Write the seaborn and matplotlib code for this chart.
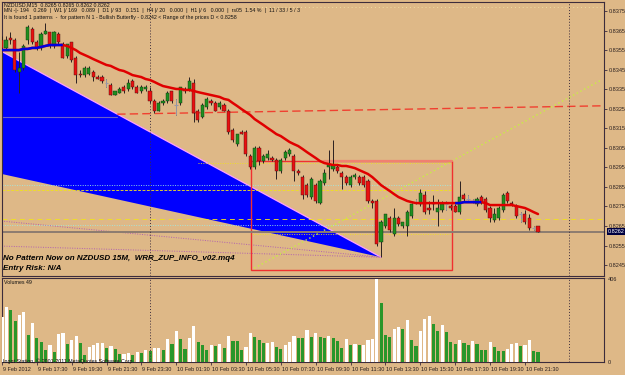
import numpy as np
import pandas as pd
import matplotlib
matplotlib.use("Agg")
import matplotlib.pyplot as plt
import matplotlib.transforms as mtransforms
from matplotlib.patches import Polygon, Rectangle
import seaborn as sns

# --- NZDUSD M15 candles, 9 Feb 2012 15:30 onwards ---
opens = [0.8360, 0.8356, 0.8361, 0.8360, 0.8344, 0.8346, 0.8360, 0.8366, 0.8359, 0.8356,
         0.8363, 0.8364, 0.8357, 0.8363, 0.8358, 0.8352, 0.8359, 0.8351, 0.8343, 0.8342,
         0.8343, 0.8344, 0.8341, 0.8341, 0.8338, 0.8337, 0.8332, 0.8333, 0.8336, 0.8335,
         0.8339, 0.8336, 0.8334, 0.8335, 0.8334, 0.8329, 0.8324, 0.8328, 0.8329, 0.8334,
         0.8327, 0.8328, 0.8335, 0.8335, 0.8338, 0.8324, 0.8321, 0.8326, 0.8329, 0.8328,
         0.8326, 0.8327, 0.8324, 0.8314, 0.8307, 0.8313, 0.8313, 0.8301, 0.8295, 0.8305,
         0.8298, 0.8300, 0.8300, 0.8299, 0.8293, 0.8300, 0.8302, 0.8301, 0.8293, 0.8290,
         0.8286, 0.8280, 0.8286, 0.8277, 0.8287, 0.8295, 0.8294, 0.8295, 0.8292, 0.8290,
         0.8286, 0.8290, 0.8290, 0.8290, 0.8288, 0.8278, 0.8278, 0.8257, 0.8265, 0.8269,
         0.8261, 0.8269, 0.8265, 0.8265, 0.8270, 0.8277, 0.8276, 0.8281, 0.8274, 0.8277,
         0.8272, 0.8273, 0.8276, 0.8275, 0.8275, 0.8272, 0.8281, 0.8279, 0.8278, 0.8276,
         0.8280, 0.8279, 0.8274, 0.8268, 0.8269, 0.8273, 0.8282, 0.8277, 0.8275, 0.8271,
         0.8271, 0.8269, 0.8264, 0.8265]
highs = [0.8362, 0.8362, 0.8364, 0.8361, 0.8354, 0.8358, 0.8368, 0.8367, 0.8360, 0.8364,
         0.8369, 0.8364, 0.8365, 0.8364, 0.8359, 0.8358, 0.8359, 0.8352, 0.8345, 0.8347,
         0.8347, 0.8345, 0.8342, 0.8342, 0.8340, 0.8338, 0.8334, 0.8336, 0.8337, 0.8340,
         0.8340, 0.8337, 0.8337, 0.8337, 0.8336, 0.8330, 0.8329, 0.8330, 0.8334, 0.8334,
         0.8330, 0.8336, 0.8336, 0.8341, 0.8340, 0.8325, 0.8328, 0.8331, 0.8330, 0.8329,
         0.8329, 0.8328, 0.8325, 0.8315, 0.8312, 0.8314, 0.8314, 0.8302, 0.8306, 0.8306,
         0.8302, 0.8304, 0.8301, 0.8300, 0.8300, 0.8304, 0.8305, 0.8302, 0.8294, 0.8291,
         0.8287, 0.8290, 0.8287, 0.8289, 0.8294, 0.8304, 0.8309, 0.8296, 0.8293, 0.8291,
         0.8291, 0.8292, 0.8291, 0.8291, 0.8289, 0.8279, 0.8279, 0.8268, 0.8271, 0.8270,
         0.8274, 0.8270, 0.8267, 0.8273, 0.8277, 0.8279, 0.8284, 0.8283, 0.8278, 0.8281,
         0.8279, 0.8278, 0.8278, 0.8276, 0.8276, 0.8288, 0.8282, 0.8281, 0.8279, 0.8280,
         0.8281, 0.8280, 0.8275, 0.8274, 0.8275, 0.8282, 0.8283, 0.8278, 0.8276, 0.8272,
         0.8273, 0.8271, 0.8265, 0.8265]
lows = [0.8355, 0.8355, 0.8358, 0.8344, 0.8333, 0.8345, 0.8358, 0.8358, 0.8355, 0.8355,
        0.8363, 0.8356, 0.8356, 0.8358, 0.8351, 0.8351, 0.8349, 0.8338, 0.8341, 0.8341,
        0.8342, 0.8339, 0.8340, 0.8338, 0.8336, 0.8332, 0.8332, 0.8333, 0.8333, 0.8334,
        0.8335, 0.8333, 0.8333, 0.8334, 0.8328, 0.8323, 0.8324, 0.8327, 0.8328, 0.8328,
        0.8322, 0.8327, 0.8333, 0.8334, 0.8318, 0.8318, 0.8320, 0.8325, 0.8327, 0.8324,
        0.8325, 0.8324, 0.8312, 0.8308, 0.8306, 0.8312, 0.8301, 0.8294, 0.8294, 0.8296,
        0.8297, 0.8299, 0.8298, 0.8289, 0.8292, 0.8299, 0.8301, 0.8288, 0.8291, 0.8279,
        0.8280, 0.8279, 0.8277, 0.8276, 0.8286, 0.8289, 0.8293, 0.8292, 0.8284, 0.8286,
        0.8285, 0.8289, 0.8286, 0.8285, 0.8277, 0.8274, 0.8255, 0.8249, 0.8264, 0.8262,
        0.8260, 0.8265, 0.8264, 0.8260, 0.8269, 0.8276, 0.8275, 0.8271, 0.8271, 0.8273,
        0.8265, 0.8272, 0.8273, 0.8273, 0.8272, 0.8271, 0.8278, 0.8278, 0.8277, 0.8275,
        0.8276, 0.8272, 0.8267, 0.8267, 0.8268, 0.8272, 0.8277, 0.8275, 0.8269, 0.8267,
        0.8266, 0.8263, 0.8263, 0.8262]
closes = [0.8356, 0.8360, 0.8360, 0.8345, 0.8346, 0.8357, 0.8367, 0.8359, 0.8356, 0.8363,
          0.8365, 0.8357, 0.8364, 0.8359, 0.8351, 0.8358, 0.8350, 0.8342, 0.8342, 0.8346,
          0.8346, 0.8341, 0.8340, 0.8339, 0.8338, 0.8332, 0.8334, 0.8335, 0.8334, 0.8338,
          0.8336, 0.8333, 0.8336, 0.8336, 0.8329, 0.8324, 0.8328, 0.8329, 0.8333, 0.8329,
          0.8327, 0.8336, 0.8334, 0.8339, 0.8323, 0.8319, 0.8327, 0.8330, 0.8328, 0.8324,
          0.8328, 0.8324, 0.8313, 0.8309, 0.8312, 0.8312, 0.8302, 0.8295, 0.8305, 0.8298,
          0.8301, 0.8302, 0.8299, 0.8293, 0.8299, 0.8303, 0.8304, 0.8293, 0.8292, 0.8281,
          0.8281, 0.8289, 0.8278, 0.8288, 0.8292, 0.8296, 0.8296, 0.8293, 0.8290, 0.8287,
          0.8290, 0.8291, 0.8287, 0.8286, 0.8278, 0.8277, 0.8256, 0.8267, 0.8271, 0.8263,
          0.8269, 0.8266, 0.8267, 0.8272, 0.8276, 0.8277, 0.8282, 0.8272, 0.8273, 0.8276,
          0.8274, 0.8276, 0.8276, 0.8274, 0.8272, 0.8280, 0.8279, 0.8279, 0.8278, 0.8279,
          0.8277, 0.8273, 0.8269, 0.8271, 0.8274, 0.8281, 0.8278, 0.8276, 0.8270, 0.8271,
          0.8267, 0.8264, 0.8264, 0.8262]

# two-colour moving average
ma = [0.83550, 0.83550, 0.83550, 0.83550, 0.83550, 0.83556, 0.83556, 0.83561, 0.83561, 0.83566,
      0.83571, 0.83576, 0.83576, 0.83576, 0.83576, 0.83571, 0.83561, 0.83550, 0.83535, 0.83525,
      0.83515, 0.83504, 0.83494, 0.83484, 0.83474, 0.83469, 0.83458, 0.83448, 0.83443, 0.83433,
      0.83422, 0.83417, 0.83412, 0.83402, 0.83397, 0.83387, 0.83376, 0.83366, 0.83361, 0.83356,
      0.83351, 0.83351, 0.83346, 0.83346, 0.83341, 0.83335, 0.83330, 0.83325, 0.83320, 0.83315,
      0.83310, 0.83300, 0.83295, 0.83279, 0.83264, 0.83248, 0.83233, 0.83218, 0.83197, 0.83182,
      0.83167, 0.83151, 0.83136, 0.83120, 0.83110, 0.83095, 0.83080, 0.83069, 0.83059, 0.83044,
      0.83028, 0.83013, 0.82998, 0.82982, 0.82972, 0.82967, 0.82962, 0.82962, 0.82957, 0.82957,
      0.82952, 0.82946, 0.82936, 0.82926, 0.82916, 0.82900, 0.82880, 0.82859, 0.82844, 0.82829,
      0.82813, 0.82798, 0.82788, 0.82778, 0.82772, 0.82767, 0.82767, 0.82767, 0.82767, 0.82767,
      0.82767, 0.82767, 0.82767, 0.82767, 0.82767, 0.82767, 0.82772, 0.82772, 0.82772, 0.82772,
      0.82772, 0.82767, 0.82757, 0.82757, 0.82757, 0.82757, 0.82757, 0.82757, 0.82752, 0.82747,
      0.82742, 0.82732, 0.82721, 0.82711]
ma_blue_runs = [(0, 14), (104, 110)]

volumes = [218, 270, 255, 201, 229, 246, 133, 190, 118, 100,
           59, 83, 49, 139, 144, 88, 108, 128, 92, 34,
           74, 82, 92, 93, 70, 77, 64, 39, 41, 46,
           34, 49, 46, 57, 54, 67, 69, 59, 113, 87,
           151, 111, 65, 118, 175, 97, 83, 57, 83, 80,
           88, 69, 126, 103, 101, 61, 75, 144, 121, 108,
           92, 95, 100, 75, 65, 83, 98, 128, 118, 116,
           156, 123, 144, 121, 116, 128, 115, 101, 70, 111,
           85, 87, 82, 85, 108, 111, 406, 288, 134, 121,
           160, 170, 162, 205, 108, 79, 151, 208, 226, 188,
           152, 180, 146, 98, 87, 108, 92, 82, 103, 87,
           59, 57, 98, 75, 56, 54, 65, 88, 92, 79,
           83, 110, 52, 49]

time_labels = ["9 Feb 2012", "9 Feb 17:30", "9 Feb 19:30", "9 Feb 21:30", "9 Feb 23:30",
               "10 Feb 01:30", "10 Feb 03:30", "10 Feb 05:30", "10 Feb 07:30", "10 Feb 09:30",
               "10 Feb 11:30", "10 Feb 13:30", "10 Feb 15:30", "10 Feb 17:30", "10 Feb 19:30",
               "10 Feb 21:30"]
label_step = 8          # bars between time labels (2 hours of M15)
day_breaks = [34, 130]  # bar index of 10 Feb 00:00 and 11 Feb 00:00
price_ticks = [0.8245, 0.8255, 0.8265, 0.8275, 0.8285, 0.8295, 0.8305, 0.8315,
               0.8325, 0.8335, 0.8345, 0.8355, 0.8365, 0.8375]
bid = 0.8262
vol_max = 406

# harmonic pattern drawing (bar, price)
butterfly = [(-1, 0.83555), (-1, 0.82921), (87, 0.8249)]
box = (57.1, 0.82424, 103.2, 0.82982)
diag = [(57.1, 0.82424), (137.2, 0.83393)]
trend_red = [(26.5, 0.83222), (138.2, 0.83265)]
trend_left = [(0, 0.83209), (26.5, 0.83209)]
purple_rays = [[(0, 0.82675), (87, 0.8249)], [(0, 0.82547), (87, 0.8249)]]
# (price, first bar, last bar, colour, style)
levels = [(0.83770, 57, 138.2, "#F0E0A0", (0, (1, 3))),
          (0.82972, 45, 103.2, "#F0E020", (0, (1, 1.5))),
          (0.82860, 0, 103.2, "#A0E8E0", (0, (1, 1.5))),
          (0.82834, 0, 103.2, "#F0E020", (0, (3, 1.5))),
          (0.82685, 0, 138.2, "#F0E020", (0, (5, 4))),
          (0.82655, 0, 103.2, "#A0E8E0", (0, (1, 1.5))),
          (0.82609, 57, 103.2, "#F0E020", (0, (1, 1.5)))]

BG = "#DEB887"
BULL = "#1F8F1F"
BEAR = "#E81010"
WICK = "#2A2020"
FRAME = "#3C2C3C"

sns.set_theme(style="ticks", rc={"axes.facecolor": BG, "figure.facecolor": BG,
                                 "axes.edgecolor": FRAME, "axes.linewidth": 0.8})
plt.rcParams["font.family"] = ["Liberation Sans", "DejaVu Sans"]

W, H = 625, 375
fig = plt.figure(figsize=(W / 100, H / 100), dpi=100)


def px_axes(left, top, right, bottom):
    return fig.add_axes([left / W, 1 - bottom / H, (right - left) / W, (bottom - top) / H])


ax = px_axes(2, 2, 604, 276)
axv = px_axes(2, 278, 604, 362)
xlim = (0.07, 138.14)

df = pd.DataFrame({"open": opens, "high": highs, "low": lows, "close": closes,
                   "ma": ma, "volume": volumes})
df["bar"] = np.arange(len(df))

# ---- price panel ----
ax.add_patch(Polygon(butterfly, closed=True, fc="#0000FF", ec="none", zorder=1))
ax.plot([butterfly[0][0], butterfly[2][0]], [butterfly[0][1], butterfly[2][1]],
        color="#FFA0FF", lw=0.9, zorder=1.5)
for ray in purple_rays:
    ax.plot(*zip(*ray), color="#B060B0", lw=0.7, ls=(0, (1, 1.5)), zorder=2)
for price, b0, b1, col, style in levels:
    ax.plot([b0, b1], [price, price], color=col, lw=0.7, ls=style, alpha=0.9, zorder=2)
ax.plot(*zip(*trend_left), color="#6A60C8", lw=0.8, zorder=2)
ax.plot(*zip(*trend_red), color="#F04030", lw=1.0, ls=(0, (6, 3)), zorder=2)
ax.plot(*zip(*diag), color="#C8F040", lw=1.0, ls=(0, (1, 2)), zorder=2)
ax.add_patch(Rectangle((box[0], box[1]), box[2] - box[0], box[3] - box[1],
                       fill=False, ec="#F03030", lw=1.0, zorder=2))
ax.plot([74, box[2]], [box[3], box[3]], color="#F08070", lw=1.6, zorder=2)
ax.axhline(bid, color="#8C7C70", lw=1.4, zorder=2)
for d in day_breaks:
    ax.axvline(d, color=FRAME, lw=0.7, ls=(0, (1, 2)), zorder=2)
    axv.axvline(d, color=FRAME, lw=0.7, ls=(0, (1, 2)), zorder=5)

up = df[df.close > df.open]
down = df[df.close < df.open]
flat = df[df.close == df.open]
ax.vlines(df.bar, df.low, df.high, color=WICK, lw=0.7, zorder=3)
ax.vlines(flat.bar, flat.low, flat.high, color="#9898A8", lw=0.7, zorder=3.1)
ax.bar(up.bar, up.close - up.open, bottom=up.open, width=0.72, color=BULL,
       edgecolor="#103010", lw=0.3, zorder=3.2)
ax.bar(down.bar, down.open - down.close, bottom=down.close, width=0.72, color=BEAR,
       edgecolor="#401010", lw=0.3, zorder=3.2)
ax.hlines(flat.close, flat.bar - 0.4, flat.bar + 0.4, color="#9898A8", lw=0.8, zorder=3.2)

sns.lineplot(data=df, x="bar", y="ma", color="#E00000", lw=1.8, ax=ax, zorder=4)
for a, b in ma_blue_runs:
    seg = df.iloc[a:b + 1]
    ax.plot(seg.bar, seg.ma, color="#0000E0", lw=1.8, solid_capstyle="butt", zorder=4.5)

ax.set_xlim(*xlim)
ax.set_ylim(0.82394, 0.83796)
ax.set_xlabel("")
ax.set_ylabel("")
ax.set_xticks([])
ax.yaxis.tick_right()
ax.set_yticks(price_ticks)
ax.set_yticklabels([f"{p:.4f}" for p in price_ticks])
ax.tick_params(axis="y", length=2, width=0.6, pad=1.5, labelsize=4, colors=FRAME,
               labelcolor="#2A2020")
for s in ax.spines.values():
    s.set_color(FRAME)
    s.set_linewidth(0.8)

tr = mtransforms.blended_transform_factory(ax.transAxes, ax.transData)
ax.text(1.006, bid, f"{bid:.4f}", transform=tr, fontsize=4, color="white", va="center",
        ha="left", bbox=dict(boxstyle="square,pad=0.15", fc="#000040", ec="none"), zorder=6)

# ---- volume panel (white = volume up on previous bar, green = down) ----
df["vcol"] = np.where(df.volume > df.volume.shift(1).fillna(0), "up", "down")
sns.barplot(data=df, x="bar", y="volume", hue="vcol", native_scale=True,
            palette={"up": "#FFFFFF", "down": "#2A962A"}, dodge=False, width=0.72,
            legend=False, ax=axv, zorder=3, saturation=1, linewidth=0)
axv.set_xlim(*xlim)
axv.set_ylim(0, vol_max * 84 / 83)
axv.set_xlabel("")
axv.set_ylabel("")
axv.yaxis.tick_right()
axv.set_yticks([0, vol_max])
axv.set_yticklabels(["0", str(vol_max)])
axv.tick_params(axis="y", length=0, pad=3, labelsize=4, labelcolor="#2A2020")
ticks = np.arange(len(time_labels)) * label_step
axv.set_xticks(ticks)
axv.set_xticklabels(time_labels, ha="left")
axv.tick_params(axis="x", length=2, width=0.6, pad=1.5, labelsize=4, colors=FRAME,
                labelcolor="#2A2020")
for lab in axv.get_xticklabels():
    lab.set_transform(lab.get_transform() + mtransforms.ScaledTranslation(1 / 100, 0, fig.dpi_scale_trans))
for s in axv.spines.values():
    s.set_color(FRAME)
    s.set_linewidth(0.8)


def ftext(x, y, s, **kw):
    kw.setdefault("color", "#101010")
    fig.text(x / W, 1 - y / H, s, va="center", ha="left", **kw)


ftext(4, 4.5, "NZDUSD,M15  0.8265 0.8265 0.8262 0.8262", fontsize=3.8)
ftext(4, 10.5, "MN -|- 194   0.269  |  W1 |/ 169   0.089  |  D1 |/ 93   0.151  |  H4 |/ 20   0.000  |"
               "  H1 |/ 6   0.000  |  rs05  1.54 %  |  11 / 33 / 5 / 3", fontsize=3.8)
ftext(4, 17, "It is found 1 patterns  -  for pattern N 1 - Bullish Butterfly - 0.8242 < "
             "Range of the prices D < 0.8258", fontsize=3.8)
ftext(3, 258, "No Pattern Now on NZDUSD 15M,  WRR_ZUP_INFO_v02.mq4", fontsize=5.8,
      fontweight="bold", fontstyle="italic", color="black")
ftext(3, 268, "Entry Risk: N/A", fontsize=5.8, fontweight="bold", fontstyle="italic", color="black")
ftext(4, 283, "Volumes 49", fontsize=3.8)
ftext(3, 361, "Ingot Station, \u00a9 2001-2011 MetaQuotes Software Corp.", fontsize=3.8)

fig.savefig("out.png", dpi=100, facecolor=BG)
